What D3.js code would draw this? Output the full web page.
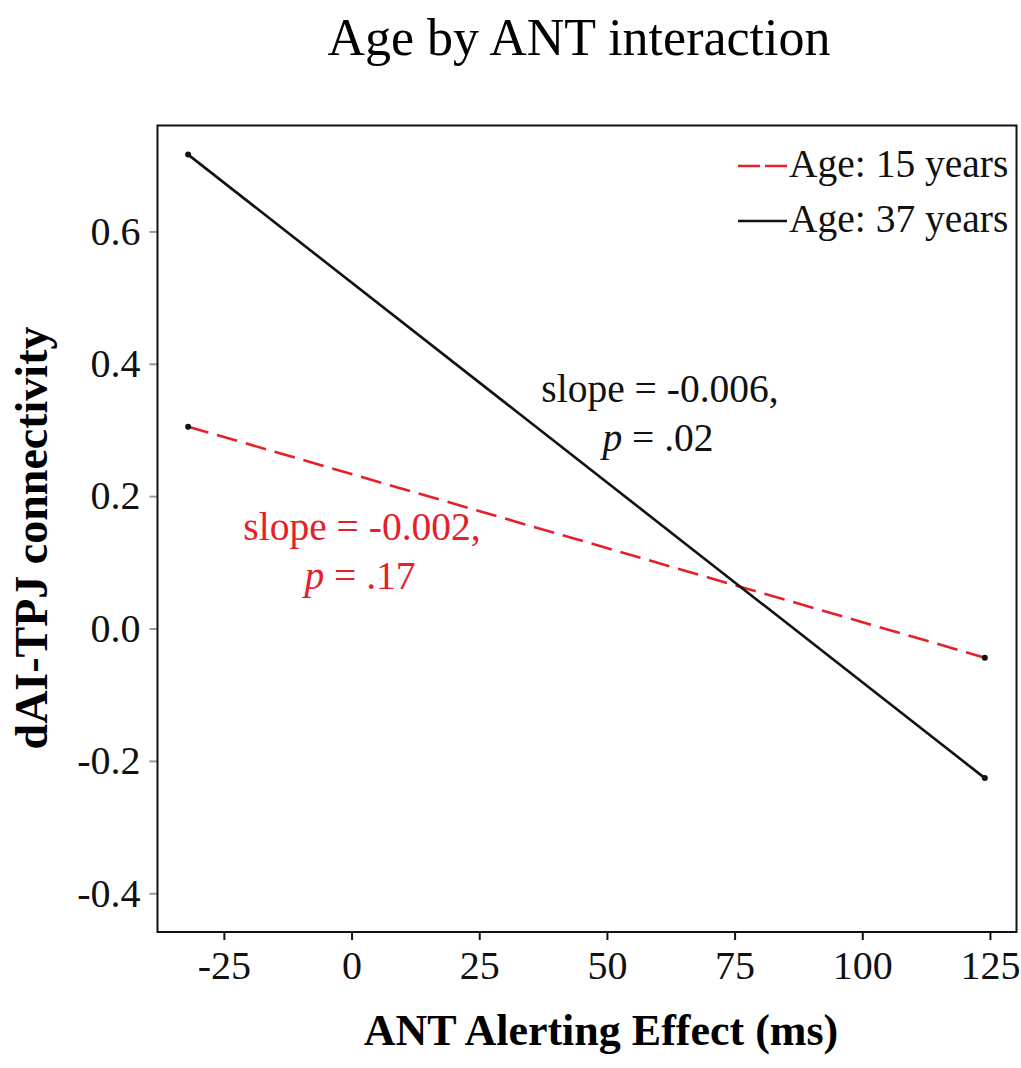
<!DOCTYPE html>
<html>
<head>
<meta charset="utf-8">
<script src="https://cdn.jsdelivr.net/npm/d3@7"></script>
<style>
  body { margin: 0; background: #fff; }
  svg { display: block; font-family: "Liberation Serif", "Times New Roman", serif; }
</style>
</head>
<body>
<svg id="chart" width="1021" height="1068"></svg>
<script>
"use strict";

// data
var seriesNames = ["Age: 15 years", "Age: 37 years"];
var antEnds = [-32, 124];
var age15Values = [0.305, -0.044];
var age37Values = [0.716, -0.226];
var xTickValues = [-25, 0, 25, 50, 75, 100, 125];
var yTickValues = [-0.4, -0.2, 0.0, 0.2, 0.4, 0.6];
var slopeLabels = [
    ["slope = -0.002,", ".17"],
    ["slope = -0.006,", ".02"]
];

var frame = { left: 157.5, right: 1016.5, top: 125.5, bottom: 932 };

var svg = d3.select("#chart");

var x = d3.scaleLinear().domain([-38, 130.2]).range([frame.left, frame.right]);
var y = d3.scaleLinear().domain([-0.4585, 0.76]).range([frame.bottom, frame.top]);

// plain hyphen for negatives, like the original
function hyphen(fmt) {
    return function (d) { return fmt(d).replace("\u2212", "-"); };
}

var series = [
    { name: seriesNames[0], values: age15Values, color: "#e5202b", dash: "21,9" },
    { name: seriesNames[1], values: age37Values, color: "#111", dash: null }
];

// title
svg.append("text")
    .attr("x", 579).attr("y", 55)
    .attr("text-anchor", "middle")
    .attr("font-size", 52)
    .text("Age by ANT interaction");

// axes
var xAxis = d3.axisBottom(x).tickValues(xTickValues).tickSize(8).tickPadding(11)
    .tickFormat(hyphen(d3.format("d")));
svg.append("g")
    .attr("transform", "translate(0," + frame.bottom + ")")
    .call(xAxis)
    .call(function (g) {
        g.select(".domain").remove();
        g.selectAll("line").attr("stroke", "#111").attr("stroke-width", 2);
        g.selectAll("text").attr("font-size", 40).attr("font-family", "Liberation Serif").attr("fill", "#111");
    });

var yAxis = d3.axisLeft(y).tickValues(yTickValues).tickSize(8).tickPadding(9)
    .tickFormat(hyphen(d3.format(".1f")));
svg.append("g")
    .attr("transform", "translate(" + frame.left + ",0)")
    .call(yAxis)
    .call(function (g) {
        g.select(".domain").remove();
        g.selectAll("line").attr("stroke", "#999").attr("stroke-width", 2);
        g.selectAll("text").attr("font-size", 40).attr("font-family", "Liberation Serif").attr("fill", "#111");
    });

// plot frame
svg.append("rect")
    .attr("x", frame.left).attr("y", frame.top)
    .attr("width", frame.right - frame.left)
    .attr("height", frame.bottom - frame.top)
    .attr("fill", "none")
    .attr("stroke", "#111")
    .attr("stroke-width", 2);

// axis titles
svg.append("text")
    .attr("x", 601).attr("y", 1045)
    .attr("text-anchor", "middle")
    .attr("font-size", 44)
    .attr("font-weight", "bold")
    .text("ANT Alerting Effect (ms)");

svg.append("text")
    .attr("transform", "translate(47,538) rotate(-90)")
    .attr("text-anchor", "middle")
    .attr("font-size", 46)
    .attr("font-weight", "bold")
    .text("dAI-TPJ connectivity");

// lines
var line = d3.line()
    .x(function (d, i) { return x(antEnds[i]); })
    .y(function (d) { return y(d); });

series.forEach(function (s) {
    svg.append("path")
        .datum(s.values)
        .attr("d", line)
        .attr("fill", "none")
        .attr("stroke", s.color)
        .attr("stroke-width", 2.6)
        .attr("stroke-dasharray", s.dash);

    svg.selectAll(null)
        .data(s.values)
        .enter().append("circle")
        .attr("cx", function (d, i) { return x(antEnds[i]); })
        .attr("cy", function (d) { return y(d); })
        .attr("r", 3)
        .attr("fill", "#111");
});

// legend
var legend = svg.append("g");
series.forEach(function (s, i) {
    var ly = 166 + i * 55;
    legend.append("line")
        .attr("x1", 738).attr("x2", 787)
        .attr("y1", ly).attr("y2", ly)
        .attr("stroke", s.color)
        .attr("stroke-width", 2.6)
        .attr("stroke-dasharray", s.dash ? "22,5" : null);
    legend.append("text")
        .attr("x", 789).attr("y", ly + 11)
        .attr("font-size", 39.5)
        .attr("fill", "#111")
        .text(s.name);
});

// slope annotations
var notes = [
    { cx: 362, cy: 540, color: "#e5202b", text: slopeLabels[0] },
    { cx: 660, cy: 402, color: "#111", text: slopeLabels[1] }
];
notes.forEach(function (n) {
    svg.append("text")
        .attr("x", n.cx).attr("y", n.cy)
        .attr("text-anchor", "middle")
        .attr("font-size", 39.5)
        .attr("fill", n.color)
        .text(n.text[0]);
    var t = svg.append("text")
        .attr("x", n.cx - 2).attr("y", n.cy + 49)
        .attr("text-anchor", "middle")
        .attr("font-size", 39.5)
        .attr("fill", n.color);
    t.append("tspan").attr("font-style", "italic").text("p");
    t.append("tspan").text(" = " + n.text[1]);
});
</script>
</body>
</html>
